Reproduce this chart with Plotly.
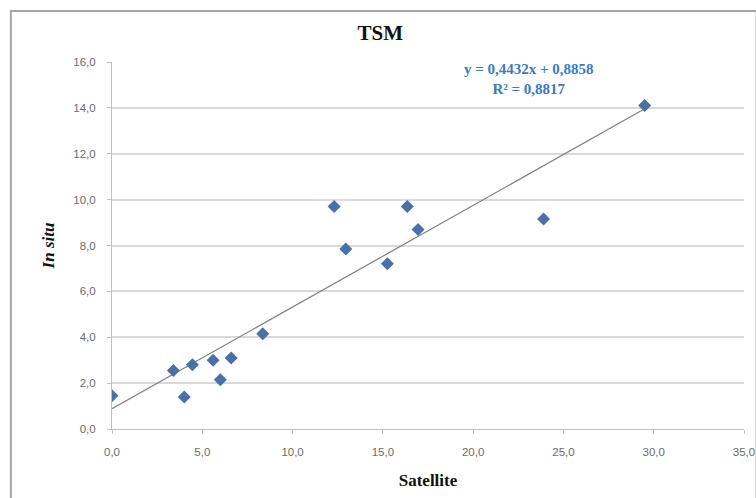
import plotly.graph_objects as go

# Data
satellite = [0.0, 3.4, 4.0, 4.45, 5.6, 6.0, 6.6, 8.35, 12.3, 12.95, 15.25, 16.35, 16.95, 23.9, 29.5]
in_situ   = [1.45, 2.55, 1.4, 2.8, 3.0, 2.15, 3.1, 4.15, 9.7, 7.85, 7.2, 9.7, 8.7, 9.15, 14.1]

slope = 0.4432
intercept = 0.8858
r2 = 0.8817

x_ticks = [0, 5, 10, 15, 20, 25, 30, 35]
y_ticks = [0, 2, 4, 6, 8, 10, 12, 14, 16]

trend_x = [min(satellite), max(satellite)]
trend_y = [slope * v + intercept for v in trend_x]

fig = go.Figure()
fig.add_trace(go.Scatter(x=trend_x, y=trend_y, mode="lines",
                         line=dict(color="#7f7f7f", width=1.2), hoverinfo="skip"))
fig.add_trace(go.Scatter(x=satellite, y=in_situ, mode="markers",
                         marker=dict(symbol="diamond", size=10, color="#4a70a8")))

serif = "Liberation Serif, Times New Roman, serif"
tickfont = dict(family="Liberation Sans, Arial, sans-serif", size=11.5, color="#6b6b6b")

fig.update_layout(
    width=756, height=498,
    margin=dict(l=112, r=12, t=62, b=69),
    paper_bgcolor="white", plot_bgcolor="white",
    showlegend=False,
    separators=", ",
    title=dict(text="<b>TSM</b>", x=0.503, xanchor="center", y=0.935, yanchor="middle",
               font=dict(family=serif, size=21, color="#111111")),
    xaxis=dict(range=[0, 35], tickvals=x_ticks, tickformat=".1f",
               showgrid=False, zeroline=False, automargin=False,
               showline=True, linecolor="#bfbfbf", linewidth=1,
               ticks="outside", ticklen=4, tickcolor="#bfbfbf",
               tickfont=tickfont, ticklabelstandoff=8,
               title=dict(text="<b>Satellite</b>", standoff=17,
                          font=dict(family=serif, size=17, color="#111111"))),
    yaxis=dict(range=[0, 16], tickvals=y_ticks, tickformat=".1f",
               showgrid=True, gridcolor="#d9d9d9", gridwidth=2, zeroline=False,
               automargin=False,
               showline=True, linecolor="#bfbfbf", linewidth=1,
               ticks="outside", ticklen=4, tickcolor="#bfbfbf",
               tickfont=tickfont, ticklabelstandoff=9,
               title=dict(text="<b><i>In situ</i></b>", standoff=14,
                          font=dict(family=serif, size=17, color="#111111"))),
    shapes=[dict(type="rect", xref="paper", yref="paper",
                 x0=-0.16, x1=1.02, y0=-0.2, y1=1.139,
                 line=dict(color="#a6a6a6", width=2), layer="below")],
    annotations=[dict(xref="paper", yref="paper", x=0.66, y=1.007, xanchor="center", yanchor="top",
                      showarrow=False, align="center",
                      text=f"<b>y = {slope:.4f}x + {intercept:.4f}".replace(".", ",") +
                           f"<br>R² = {r2:.4f}</b>".replace(".", ","),
                      font=dict(family=serif, size=15, color="#3a7bbf"))],
)

fig.write_html("out.html", config={"displayModeBar": False},
               post_script="document.body.style.margin='0';")
